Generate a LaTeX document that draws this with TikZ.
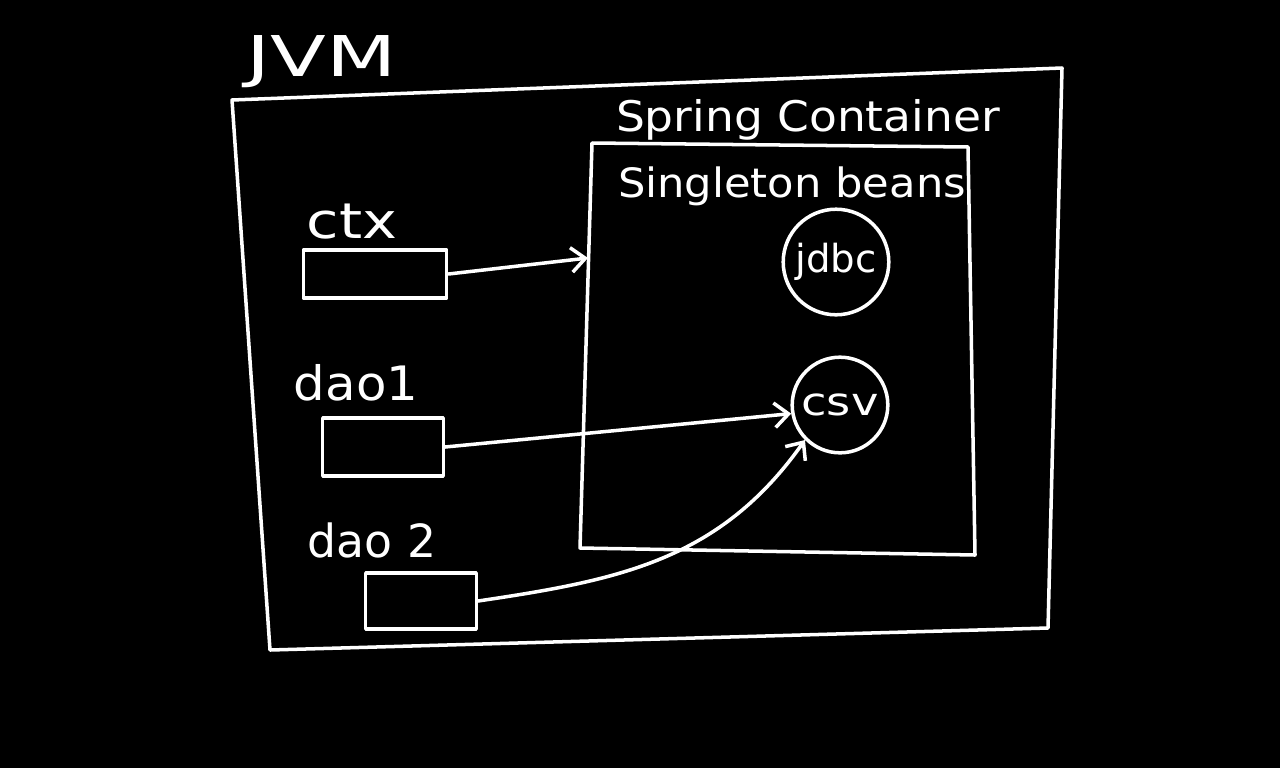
\documentclass[tikz,border=0pt]{standalone}
\usepackage{fontspec}
\setmainfont{DejaVu Sans}
\usetikzlibrary{arrows.meta}
\begin{document}
\begin{tikzpicture}[x=0.02cm,y=-0.02cm,
  ink/.style={draw=white,line width=2pt,line join=round,line cap=round},
  lbl/.style={text=white,inner sep=0pt},
  ref/.style={ink,-{Straight Barb[length=8pt,width=14pt]}},
  varbox/.style={ink,rectangle,inner sep=0pt}]
\fill[black] (0,0) rectangle (1280,768);
\useasboundingbox (0,0) rectangle (1280,768);
% JVM
\node[lbl,font=\fontsize{32}{36}\selectfont,xscale=1.45] (jvmlbl) at (322,62) {JVM};
\draw[ink] (232,100) -- (1062,68) -- (1048,628) -- (270,650) -- cycle;
% Spring container
\node[lbl,font=\fontsize{24}{28}\selectfont,xscale=1.08] (springlbl) at (808,120) {Spring Container};
\draw[ink] (592,143) -- (968,147) -- (975,555) -- (580,548) -- cycle;
\coordinate (springin) at (588,258);
\node[lbl,font=\fontsize{23}{28}\selectfont,xscale=1.07] (singlbl) at (792,186) {Singleton beans};
% beans
\node[ink,circle,minimum size=106pt*0.567,inner sep=0pt] (jdbc) at (836,262) {};
\node[lbl,font=\fontsize{22}{26}\selectfont] at (jdbc) {jdbc};
\node[ink,circle,minimum size=96pt*0.567,inner sep=0pt] (csv) at (840,405) {};
\node[lbl,font=\fontsize{22}{26}\selectfont,xscale=1.2] at (csv) {csv};
% variables
\node[lbl,font=\fontsize{28}{30}\selectfont,xscale=1.2] (ctxlbl) at (352,222) {ctx};
\node[varbox,minimum width=144pt*0.567,minimum height=48pt*0.567] (ctx) at (375,274) {};
\node[lbl,font=\fontsize{27}{30}\selectfont,xscale=1.05] (dao1lbl) at (356,383) {dao1};
\node[varbox,minimum width=121pt*0.567,minimum height=58pt*0.567] (dao1) at (383,447) {};
\node[lbl,font=\fontsize{26}{30}\selectfont] (dao2lbl) at (372,540) {dao 2};
\node[varbox,minimum width=111pt*0.567,minimum height=56pt*0.567] (dao2) at (421,601) {};
% references
\draw[ref] (ctx.east) -- (springin);
\draw[ref] (dao1.east) -- (csv.190);
\draw[ref] (dao2.east) .. controls (620,580) and (720,560) .. (csv.south west);
\end{tikzpicture}
\end{document}
